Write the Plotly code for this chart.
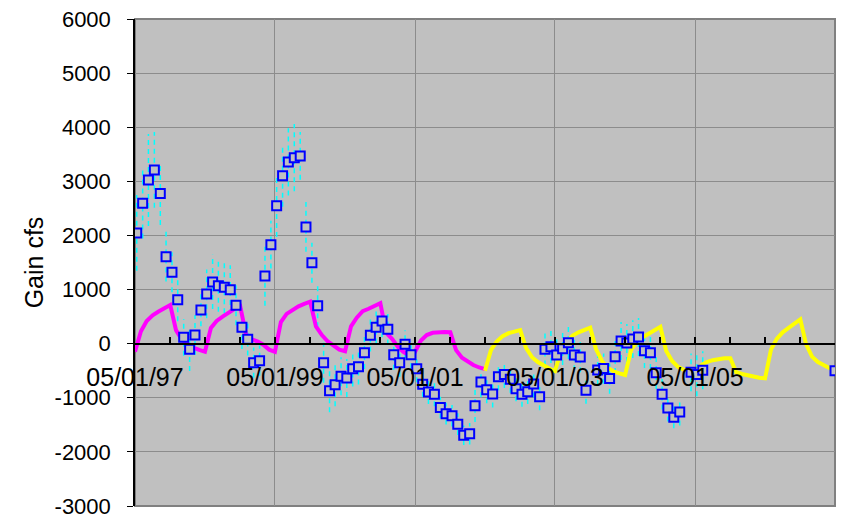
import plotly.graph_objects as go

# ---------------- data ----------------
OBS_DATES = [
    "1997-05-10", "1997-06-10", "1997-07-10", "1997-08-10", "1997-09-10", "1997-10-10", "1997-11-10", "1997-12-10",
    "1998-01-10", "1998-02-10", "1998-03-10", "1998-04-10", "1998-05-10", "1998-06-10", "1998-07-10", "1998-08-10",
    "1998-09-10", "1998-10-10", "1998-11-10", "1998-12-10",
    "1999-01-10", "1999-02-10", "1999-03-10", "1999-04-10", "1999-05-10", "1999-06-10", "1999-07-10", "1999-08-10",
    "1999-09-10", "1999-10-10", "1999-11-10", "1999-12-10",
    "2000-01-10", "2000-02-10", "2000-03-10", "2000-04-10", "2000-05-10", "2000-06-10", "2000-07-10", "2000-08-10",
    "2000-09-10", "2000-10-10", "2000-11-10", "2000-12-10",
    "2001-01-10", "2001-02-10", "2001-03-10", "2001-04-10", "2001-05-10", "2001-06-10", "2001-07-10", "2001-08-10",
    "2001-09-10", "2001-10-10", "2001-11-10", "2001-12-10",
    "2002-01-10", "2002-02-10", "2002-03-10", "2002-04-10", "2002-05-10", "2002-06-10", "2002-07-10", "2002-08-10",
    "2002-09-10", "2002-10-10", "2002-11-10", "2002-12-10",
    "2003-01-10", "2003-02-10", "2003-03-10", "2003-04-10", "2003-05-10", "2003-06-10", "2003-07-10", "2003-08-10",
    "2003-09-10", "2003-10-10", "2003-12-10",
    "2004-01-10", "2004-02-10", "2004-03-10", "2004-04-10", "2004-05-10", "2004-06-10", "2004-07-10", "2004-08-10",
    "2004-09-10", "2004-10-10", "2004-11-10", "2004-12-10",
    "2005-01-10", "2005-02-10", "2005-04-10", "2005-05-10", "2005-06-10",
    "2007-05-01",
]
OBS_GAIN = [
    2046, 2595, 3026, 3211, 2773, 1608, 1320, 813,
    118, -104, 161, 623, 919, 1141, 1072, 1042, 998, 710, 303, 81,
    -351, -314, 1251, 1830, 2551, 3105, 3359, 3438, 3470, 2157, 1497, 702,
    -351, -869, -758, -603, -634, -462, -425, -166, 155, 303, 420, 266,
    -203, -351, -11, -203, -462, -750, -895, -935, -1180, -1293, -1333, -1487,
    -1694, -1665, -1149, -708, -850, -930, -610, -570, -658, -832, -935, -887,
    -745, -980, -104, -55, -209, -95, 18, -209, -248, -862, -486,
    -460, -645, -240, 50, 12, 84, 124, -129, -166, -536, -935, -1189,
    -1361, -1263, -530, -572, -492,
    -499,
]
OBS_ERR = [
    700, 650, 850, 700, 580, 460, 370, 400,
    340, 400, 370, 300, 450, 500, 480, 480, 450, 370, 400, 300,
    280, 280, 550, 440, 580, 575, 620, 620, 440, 460, 370, 400,
    370, 400, 400, 350, 350, 330, 330, 300, 300, 300, 300, 280,
    280, 260, 260, 250, 250, 230, 220, 220, 200, 200, 200, 200,
    180, 200, 300, 280, 250, 250, 250, 250, 250, 230, 230, 230,
    250, 250, 300, 300, 300, 300, 300, 280, 280, 250, 280,
    280, 280, 300, 350, 350, 350, 350, 320, 300, 300, 280, 250,
    200, 250, 350, 400, 350,
    0,
]

MAG_DATES = [
    "1997-05-01", "1997-06-01", "1997-07-01", "1997-08-01", "1997-09-01", "1997-10-01", "1997-11-01", "1997-12-01",
    "1998-01-01", "1998-02-01", "1998-03-01", "1998-04-01", "1998-05-01", "1998-06-01", "1998-07-01", "1998-08-01",
    "1998-09-01", "1998-10-01", "1998-11-01", "1998-12-01",
    "1999-01-01", "1999-02-01", "1999-03-01", "1999-04-01", "1999-05-01", "1999-06-01", "1999-07-01", "1999-08-01",
    "1999-09-01", "1999-10-01", "1999-11-01", "1999-12-01",
    "2000-01-01", "2000-02-01", "2000-03-01", "2000-04-01", "2000-05-01", "2000-06-01", "2000-07-01", "2000-08-01",
    "2000-09-01", "2000-10-01", "2000-11-01", "2000-12-01",
    "2001-01-01", "2001-02-01", "2001-03-01", "2001-04-01", "2001-05-01", "2001-06-01", "2001-07-01", "2001-08-01",
    "2001-09-01", "2001-10-01", "2001-11-01", "2001-12-01",
    "2002-01-01", "2002-02-01", "2002-03-01", "2002-04-01", "2002-05-01",
]
MAG_GAIN = [
    -150, 230, 420, 525, 595, 660, 715, 250, 70, -5, -75, -115,
    -150, 290, 420, 500, 580, 640, 690, 170, 80, 40, -20, -110,
    -150, 400, 550, 625, 690, 735, 775, 320, 160, 40, -40, -110,
    -140, 320, 480, 600, 645, 700, 750, 200, 90, -60, -150, -220,
    -150, 60, 160, 200, 215, 215, 210, -120, -260, -330, -395, -440,
    -470,
]

YEL_DATES = [
    "2002-05-01", "2002-06-01", "2002-07-01", "2002-08-01", "2002-09-01", "2002-10-01", "2002-11-01", "2002-12-01",
    "2003-01-01", "2003-02-01", "2003-03-01", "2003-04-01", "2003-05-01", "2003-06-01", "2003-07-01", "2003-08-01",
    "2003-09-01", "2003-10-01", "2003-11-01", "2003-12-01",
    "2004-01-01", "2004-02-01", "2004-03-01", "2004-04-01", "2004-05-01", "2004-06-01", "2004-07-01", "2004-08-01",
    "2004-09-01", "2004-10-01", "2004-11-01", "2004-12-01",
    "2005-01-01", "2005-02-01", "2005-03-01", "2005-04-01", "2005-05-01", "2005-06-01", "2005-07-01", "2005-08-01",
    "2005-09-01", "2005-10-01", "2005-11-01", "2005-12-01",
    "2006-01-01", "2006-02-01", "2006-03-01", "2006-04-01", "2006-05-01", "2006-06-01", "2006-07-01", "2006-08-01",
    "2006-09-01", "2006-10-01", "2006-11-01", "2006-12-01",
    "2007-01-01", "2007-02-01", "2007-03-01", "2007-04-01", "2007-05-01",
]
YEL_GAIN = [
    -500, -120, 40, 140, 195, 225, 250, -80, -250, -340, -400, -460,
    -505, -150, 30, 150, 210, 260, 295, -100, -320, -450, -510, -550,
    -580, -120, 40, 120, 180, 235, 310, -130, -320, -430, -480, -500,
    -515, -400, -340, -305, -285, -270, -270, -525, -560, -585, -610, -630,
    -640, -110, 90, 210, 290, 370, 450, -10, -240, -340, -400, -450,
    -500,
]

TICK_START = "1997-05-01"      # first labelled date (05/01/97)
MAJOR_STEP = "M24"             # labels every two years
MINOR_STEP = "M6"              # tick marks every six months
X_DATE_FORMAT = "%m/%d/%y"
X_RANGE = ["1997-05-01", "2007-05-01"]
Y_TICKS = [-3000, -2000, -1000, 0, 1000, 2000, 3000, 4000, 5000, 6000]
Y_TICK_LABELS = ["-3000", "-2000", "-1000", "0", "1000", "2000", "3000", "4000", "5000", "6000"]

FONT = "Liberation Sans, Arial, sans-serif"

# error-bar segments (dashed cyan)
ex, ey = [], []
for d, v, e in zip(OBS_DATES, OBS_GAIN, OBS_ERR):
    if e > 0:
        ex += [d, d, None]
        ey += [v - e, v + e, None]

fig = go.Figure()
fig.add_trace(go.Scatter(x=ex, y=ey, mode="lines",
                         line=dict(color="#00FFFF", width=1.5, dash="5px,4px"),
                         hoverinfo="skip", showlegend=False))
fig.add_trace(go.Scatter(x=MAG_DATES, y=MAG_GAIN, mode="lines",
                         line=dict(color="#FF00FF", width=4), showlegend=False))
fig.add_trace(go.Scatter(x=YEL_DATES, y=YEL_GAIN, mode="lines",
                         line=dict(color="#FFFF00", width=4), showlegend=False))
fig.add_trace(go.Scatter(x=OBS_DATES, y=OBS_GAIN, mode="markers",
                         marker=dict(symbol="square", size=9, color="#C0C0C0",
                                     line=dict(color="#0000FF", width=2)),
                         showlegend=False))
# empty trace so the zero-crossing date axis is rendered
fig.add_trace(go.Scatter(x=[], y=[], xaxis="x2", showlegend=False))

fig.update_layout(
    width=852, height=523,
    margin=dict(l=127, r=25, t=11, b=25, autoexpand=False),
    paper_bgcolor="white",
    plot_bgcolor="#C0C0C0",
    font=dict(family=FONT, color="black"),
    showlegend=False,
    shapes=[dict(type="rect", xref="paper", yref="paper", x0=0, x1=1, y0=0, y1=1,
                 line=dict(color="#808080", width=2), layer="below")],
    xaxis=dict(
        type="date", range=X_RANGE, automargin=False,
        tickmode="linear", tick0=TICK_START, dtick=MAJOR_STEP,
        showticklabels=False, ticks="",
        showgrid=True, gridcolor="#8C8C8C", gridwidth=1,
        showline=False, zeroline=False,
    ),
    xaxis2=dict(
        type="date", overlaying="x", matches="x", anchor="free", position=1/3,
        side="bottom", range=X_RANGE, automargin=False,
        tickmode="linear", tick0=TICK_START, dtick=MAJOR_STEP, tickformat=X_DATE_FORMAT,
        ticks="inside", ticklen=6, tickwidth=1.5, tickcolor="black",
        minor=dict(ticks="inside", ticklen=6, tickwidth=1.5, tickcolor="black",
                   tick0=TICK_START, dtick=MINOR_STEP, showgrid=False),
        showgrid=False, zeroline=False,
        showline=True, linecolor="black", linewidth=1.5,
        tickfont=dict(size=25, family=FONT, color="black"),
        ticklabelstandoff=12,
    ),
    yaxis=dict(
        range=[-3000, 6000], tickmode="array", tickvals=Y_TICKS, ticktext=Y_TICK_LABELS,
        automargin=False, ticklabeloverflow="allow",
        showgrid=True, gridcolor="#8C8C8C", gridwidth=1,
        zeroline=False,
        showline=True, linecolor="black", linewidth=1.5,
        ticks="outside", ticklen=6, tickcolor="black",
        tickfont=dict(size=22, family=FONT, color="black"),
        ticklabelstandoff=12,
        title=dict(text="Gain cfs", font=dict(size=25, family=FONT, color="black"), standoff=4),
    ),
)

fig.write_html("out.html")
